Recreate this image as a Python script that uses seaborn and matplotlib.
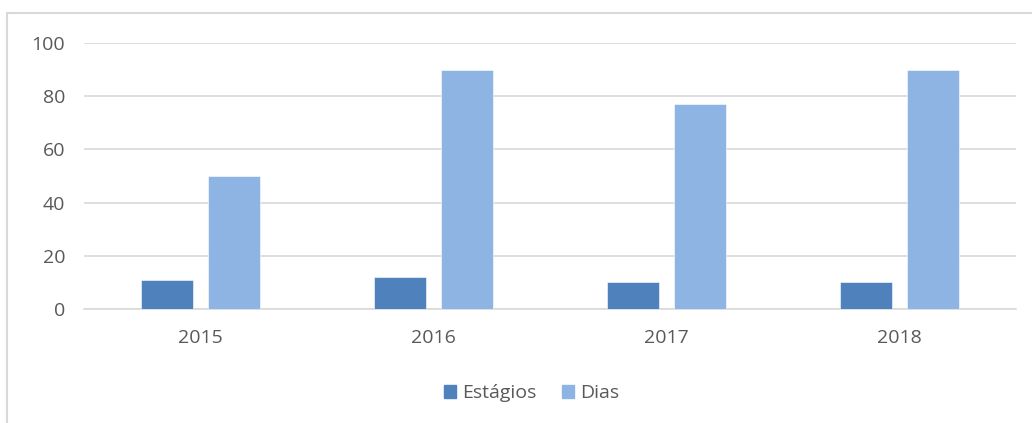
import pandas as pd
import matplotlib
matplotlib.use("Agg")
import matplotlib.pyplot as plt
import matplotlib.patches as mpatches
import seaborn as sns

years = ["2015", "2016", "2017", "2018"]
estagios = [11, 12, 10, 10]
dias = [50, 90, 77, 90]

COLORS = {"Estágios": "#4F81BD", "Dias": "#8EB4E3"}
TEXT = "#595959"
GRID = "#D9D9D9"

df = pd.DataFrame({
    "ano": years * 2,
    "valor": estagios + dias,
    "serie": ["Estágios"] * len(years) + ["Dias"] * len(years),
})

sns.set_style("white")
plt.rcParams["font.family"] = ["Open Sans", "DejaVu Sans"]

fig = plt.figure(figsize=(10.32, 4.23), dpi=100)
ax = fig.add_axes([0.0814, 0.2695, 0.9031, 0.6288])

sns.barplot(data=df, x="ano", y="valor", hue="serie", palette=COLORS,
            saturation=1, width=0.575, gap=0.21, ax=ax, zorder=3,
            legend=False, edgecolor="white", linewidth=0.4)

ax.set_ylim(0, 100)
ax.set_yticks(range(0, 101, 20))
ax.set_xlim(-0.5, 3.5)
ax.grid(axis="y", color=GRID, linewidth=1.2, zorder=0)
ax.set_xlabel("")
ax.set_ylabel("")

# remove axis splines, keep bottom line
sns.despine(ax=ax, left=True, right=True, top=True)
ax.spines["bottom"].set_color(GRID)
ax.spines["bottom"].set_linewidth(1.2)
ax.tick_params(left=False, bottom=False, colors=TEXT, labelsize=14)
ax.tick_params(axis="y", pad=10)
ax.tick_params(axis="x", pad=11)

handles = [mpatches.Patch(color=COLORS[k], label=k) for k in COLORS]
fig.legend(handles=handles, loc="center", bbox_to_anchor=(0.515, 0.07),
           ncol=2, frameon=False, fontsize=14, labelcolor=TEXT,
           handlelength=0.65, handleheight=0.65, handletextpad=0.3,
           columnspacing=1.3)

# chart border
fig.add_artist(mpatches.Rectangle((7 / 1032, -0.1), 1.2, 1 - 13 / 423 + 0.1,
                                  transform=fig.transFigure, fill=False,
                                  edgecolor=GRID, linewidth=1.5))

fig.savefig("out.png", dpi=100)
